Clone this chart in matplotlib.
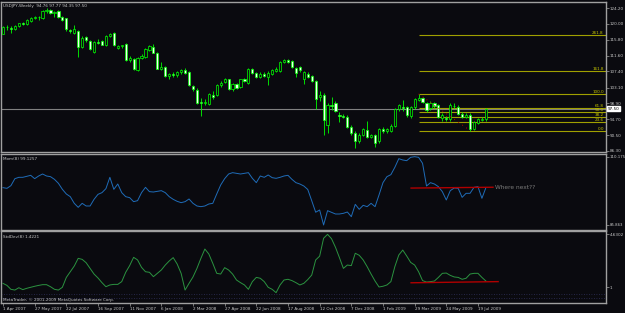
import numpy as np
import matplotlib.pyplot as plt

# USDJPY weekly candles, 1 Apr 2007 .. 2 Aug 2009
opens = [117.31, 119.08, 118.90, 118.55, 119.30, 120.10, 119.96, 120.85, 121.50, 121.70,
         121.56, 123.40, 123.68, 122.80, 123.41, 121.90, 121.47, 118.40, 117.50, 118.11,
         113.95, 116.43, 115.54, 112.62, 115.20, 115.36, 114.48, 116.80, 117.49, 113.60,
         114.00, 114.66, 110.40, 110.77, 107.76, 110.90, 111.12, 113.07, 113.95, 112.36,
         108.10, 108.64, 106.20, 106.60, 106.40, 107.20, 107.76, 107.32, 103.51, 102.45,
         99.27, 98.92, 98.74, 101.20, 101.22, 103.70, 104.60, 105.28, 102.63, 104.05,
         103.16, 105.28, 104.40, 108.11, 107.05, 106.00, 106.70, 105.80, 106.70, 107.50,
         107.41, 109.90, 110.30, 110.06, 108.29, 108.64, 105.46, 106.70, 106.17, 104.75,
         100.70, 101.04, 93.26, 98.40, 99.09, 95.70, 95.60, 95.38, 92.73, 91.13,
         88.83, 90.60, 91.84, 90.07, 90.60, 88.83, 92.00, 91.70, 91.67, 92.90,
         97.50, 98.00, 97.86, 95.56, 97.86, 99.90, 100.33, 98.92, 97.80, 98.92,
         98.39, 95.00, 95.00, 94.67, 98.30, 98.03, 96.09, 95.40, 95.90, 92.20,
         93.79, 94.60, 94.76]
highs = [119.30, 119.70, 119.40, 119.70, 120.30, 120.40, 121.20, 121.80, 122.00, 122.10,
         123.60, 124.10, 123.90, 123.50, 123.60, 122.10, 121.60, 118.70, 119.60, 118.40,
         116.80, 116.90, 115.80, 115.50, 115.90, 115.60, 117.00, 117.70, 117.90, 114.40,
         114.50, 115.00, 111.50, 111.00, 111.20, 112.00, 113.50, 114.50, 114.60, 112.60,
         109.90, 108.90, 107.00, 107.30, 107.60, 108.10, 108.20, 107.60, 103.90, 102.90,
         100.40, 100.00, 101.60, 102.20, 104.00, 104.80, 105.60, 105.50, 104.40, 104.30,
         105.50, 105.70, 108.30, 108.40, 107.30, 107.20, 107.30, 107.50, 108.00, 108.60,
         110.20, 110.70, 110.60, 110.40, 108.60, 108.90, 107.50, 107.10, 106.50, 105.00,
         102.30, 101.70, 99.00, 100.60, 99.50, 96.60, 96.20, 95.80, 93.20, 91.60,
         91.00, 92.40, 94.10, 90.80, 90.90, 92.50, 92.60, 92.50, 93.30, 97.60,
         98.80, 99.70, 98.20, 98.20, 100.40, 101.40, 100.60, 99.20, 99.60, 99.30,
         98.70, 96.40, 95.60, 98.90, 98.90, 98.40, 96.50, 96.30, 96.30, 94.30,
         95.00, 95.30, 97.77]
lows = [117.20, 118.40, 117.50, 118.40, 119.10, 119.60, 119.80, 120.60, 121.20, 121.00,
        121.40, 123.00, 122.60, 121.90, 121.60, 120.80, 118.20, 117.60, 117.30, 111.30,
        113.50, 115.30, 113.00, 112.30, 114.60, 114.30, 114.20, 116.50, 114.20, 113.20,
        113.70, 110.20, 109.80, 107.70, 107.40, 110.60, 110.90, 112.90, 112.20, 107.90,
        107.70, 105.90, 105.50, 105.90, 105.90, 106.80, 106.80, 103.50, 102.20, 98.80,
        95.60, 98.50, 98.50, 100.10, 100.90, 103.30, 104.30, 102.40, 102.30, 102.70,
        102.90, 104.50, 104.10, 106.80, 105.70, 105.60, 105.90, 103.70, 106.40, 107.20,
        107.10, 109.50, 109.60, 108.40, 106.00, 107.30, 104.10, 105.70, 104.60, 97.50,
        99.50, 90.60, 91.10, 97.20, 96.50, 93.90, 94.90, 92.40, 90.50, 87.10,
        88.50, 90.30, 89.80, 89.60, 87.20, 88.50, 91.00, 91.00, 91.30, 92.60,
        97.00, 97.00, 95.40, 95.10, 97.50, 99.50, 98.90, 96.70, 97.20, 97.80,
        94.90, 94.30, 94.20, 94.30, 97.60, 95.80, 94.90, 95.00, 91.70, 91.90,
        93.40, 94.30, 94.35]
closes = [119.08, 119.20, 118.55, 119.43, 120.10, 119.90, 121.00, 121.56, 121.70, 121.90,
          123.41, 123.70, 122.79, 123.20, 121.91, 121.02, 118.55, 118.00, 118.60, 113.95,
          116.25, 115.72, 113.24, 115.28, 115.00, 114.48, 116.78, 117.40, 114.48, 114.00,
          114.30, 110.41, 110.90, 107.94, 110.94, 111.60, 113.24, 114.13, 112.36, 108.11,
          108.60, 106.17, 106.60, 106.40, 107.20, 107.70, 107.05, 103.78, 102.63, 99.09,
          98.92, 99.20, 101.39, 100.70, 103.69, 104.40, 105.28, 102.63, 104.05, 102.98,
          105.28, 104.90, 108.11, 107.05, 105.99, 106.70, 106.20, 106.88, 107.76, 108.10,
          109.88, 110.40, 110.00, 108.64, 107.05, 107.76, 107.23, 105.99, 104.93, 100.16,
          101.20, 94.50, 98.39, 98.10, 96.97, 95.60, 95.40, 92.73, 90.96, 89.01,
          90.60, 92.02, 90.07, 90.43, 88.48, 92.20, 91.70, 92.00, 92.90, 97.33,
          98.39, 97.70, 95.73, 97.86, 100.16, 100.30, 99.27, 97.15, 99.00, 98.21,
          95.20, 95.80, 94.80, 98.39, 98.10, 96.09, 95.20, 95.70, 92.20, 93.96,
          94.67, 94.80, 97.50]

# Momentum(8) line
mom = [99.15, 98.91, 99.86, 102.35, 102.83, 102.83, 103.18, 103.54, 102.35, 103.30,
       104.01, 103.30, 103.06, 102.11, 100.69, 98.55, 96.89, 95.94, 93.57, 92.14,
       93.57, 92.62, 92.62, 94.99, 96.77, 97.37, 98.79, 102.83, 98.55, 100.45,
       97.37, 95.94, 95.59, 94.16, 94.52, 97.37, 99.27, 97.72, 97.60, 97.84,
       98.08, 97.37, 95.94, 94.99, 94.28, 93.81, 94.16, 95.11, 93.57, 92.62,
       92.38, 92.62, 93.33, 93.57, 96.89, 100.10, 102.35, 104.01, 104.49, 104.25,
       104.01, 104.25, 104.49, 102.47, 100.93, 103.30, 102.83, 103.66, 102.71, 102.47,
       102.83, 103.30, 103.54, 102.11, 100.93, 100.45, 99.74, 98.50, 94.50, 90.40,
       91.19, 85.863, 90.96, 90.36, 89.77, 89.77, 90.01, 90.48, 88.82, 93.21,
       91.43, 92.86, 92.38, 93.57, 92.38, 96.54, 100.93, 103.06, 103.78, 106.39,
       109.47, 109.00, 108.76, 109.95, 110.175, 109.95, 107.81, 99.74, 100.93, 100.45,
       99.50, 97.72, 94.76, 98.08, 99.03, 98.91, 95.70, 97.13, 97.13, 99.27,
       99.50, 95.35, 99.1257]

# StdDev(8) line
stddev = [1.26, 1.12, 0.85, 0.80, 0.96, 0.83, 0.92, 0.99, 1.06, 1.12,
          1.17, 1.17, 1.03, 0.85, 0.80, 0.99, 1.67, 2.06, 2.45, 2.98,
          2.91, 2.68, 2.29, 1.90, 1.63, 1.31, 1.03, 1.15, 1.19, 1.19,
          1.38, 2.02, 2.48, 3.05, 2.87, 2.36, 2.06, 2.02, 1.72, 1.95,
          2.18, 2.52, 2.80, 3.03, 2.59, 1.95, 0.80, 1.26, 1.70, 2.29,
          2.98, 3.62, 3.28, 2.64, 1.95, 1.90, 2.34, 2.18, 1.90, 1.49,
          1.31, 1.15, 0.85, 1.38, 1.67, 1.61, 1.38, 0.99, 0.85, 0.62,
          1.15, 1.49, 1.54, 1.45, 1.31, 1.15, 1.26, 1.52, 1.83, 2.87,
          3.13, 4.36, 4.6302, 4.33, 3.74, 3.03, 2.29, 2.52, 2.48, 3.33,
          3.19, 2.87, 2.41, 1.90, 1.42, 1.01, 1.06, 1.15, 1.38, 2.41,
          3.21, 3.55, 3.14, 2.70, 2.52, 2.06, 1.45, 1.35, 1.38, 1.42,
          1.67, 1.95, 1.97, 1.81, 1.70, 1.67, 1.54, 1.61, 1.90, 1.95,
          1.95, 1.67, 1.4221]

date_bars = list(range(0, 121, 8))
date_labels = ['1 Apr 2007', '27 May 2007', '22 Jul 2007', '16 Sep 2007', '11 Nov 2007',
               '6 Jan 2008', '2 Mar 2008', '27 Apr 2008', '22 Jun 2008', '17 Aug 2008',
               '12 Oct 2008', '7 Dec 2008', '1 Feb 2009', '29 Mar 2009', '24 May 2009',
               '19 Jul 2009']
price_ticks = [124.20, 120.00, 115.80, 111.60, 107.40, 103.10, 98.90, 94.70, 90.50, 86.30]

# Fibonacci retracement: anchored on the high of bar 105 and the low of bar 118
fib_levels = [0.0, 23.6, 38.2, 50.0, 61.8, 100.0, 161.8, 261.8]
fib_bar_high, fib_bar_low = 105, 118

BG = '#0a0a0f'
LIME = '#00ff00'
TXT = '#c8c8c8'
FS = 3.0
W, H = 625, 313

fig = plt.figure(figsize=(W / 100, H / 100), dpi=100, facecolor=BG)


def px_axes(x0, y0, x1, y1):
    a = fig.add_axes([x0 / W, 1 - y1 / H, (x1 - x0) / W, (y1 - y0) / H], facecolor=BG)
    for s in a.spines.values():
        s.set_color('#a0a0a0')
        s.set_linewidth(1.0)
    a.set_xlim(-0.38, 152.35)
    return a


ax = px_axes(1.5, 1.5, 606, 152)
axm = px_axes(1.5, 153.5, 606, 229.5)
axs = px_axes(1.5, 231, 606, 303)

# --- price panel ---
x = np.arange(len(closes))
o, h, l, c = map(np.array, (opens, highs, lows, closes))
up = c >= o
lo = np.minimum(o, c)
bh = np.maximum(np.abs(c - o), 0.08)
ax.vlines(x, l, h, color=LIME, lw=0.6, zorder=2)
ax.bar(x[up], bh[up], bottom=lo[up], width=0.55, facecolor=BG, edgecolor=LIME, lw=0.5, zorder=3)
ax.bar(x[~up], bh[~up], bottom=lo[~up], width=0.55, facecolor='#f0fff0', edgecolor=LIME, lw=0.5, zorder=3)
ax.axhline(closes[-1], color='#808080', lw=0.8, zorder=1)

f_hi = highs[fib_bar_high]
f_lo = lows[fib_bar_low]
for lvl in fib_levels:
    p = f_lo + (f_hi - f_lo) * lvl / 100
    ax.hlines(p, fib_bar_high, 152.35, color='#a0a000', lw=0.8, zorder=1.5)
    ax.text(151.8, p, f'{lvl:.1f}', ha='right', va='bottom', fontsize=FS, color='#c8c800')
ax.plot([fib_bar_high, fib_bar_low], [f_hi, f_lo], color='#c00000', lw=0.7, ls=(0, (1, 4)), zorder=4)

ax.set_ylim(86.0, 125.93)
ax.yaxis.tick_right()
ax.set_yticks(price_ticks)
ax.set_yticklabels([f'{t:.2f}' for t in price_ticks])
ax.tick_params(axis='y', length=2, width=0.5, color='#a0a0a0', labelcolor=TXT, labelsize=FS, pad=0.8)
ax.set_xticks([])
ax.text(1.003, closes[-1], f'{closes[-1]:.2f}', transform=ax.get_yaxis_transform(),
        fontsize=FS, color='black', va='center', ha='left',
        bbox=dict(boxstyle='square,pad=0.2', fc='white', ec='white'))
ax.text(0.003, 0.985, f'USDJPY,Weekly  {opens[-1]:.2f} {highs[-1]:.2f} {lows[-1]:.2f} {closes[-1]:.2f}',
        transform=ax.transAxes, fontsize=FS, color=TXT, va='top')

# --- momentum panel ---
axm.plot(x, mom, color='#1f6cb8', lw=0.7)
axm.plot([103.1, 123.8], [99.0, 99.3], color='#b00000', lw=1.0)
axm.text(124.3, 99.15, 'Where next??', fontsize=4.2, color='#7a7a7a', va='center')
axm.set_ylim(84.25, 111.31)
axm.yaxis.tick_right()
axm.set_yticks([110.175, 85.863])
axm.set_yticklabels(['110.175', '85.863'])
axm.tick_params(axis='y', length=2, width=0.5, color='#a0a0a0', labelcolor=TXT, labelsize=2.8, pad=0.5)
axm.set_xticks([])
axm.text(0.003, 0.95, f'Mom(8) {mom[-1]}', transform=axm.transAxes, fontsize=FS, color=TXT, va='top')

# --- stddev panel ---
axs.plot(x, stddev, color='#2b9340', lw=0.7)
axs.plot([103.1, 125.1], [1.30, 1.38], color='#b00000', lw=1.0)
axs.axhline(0.53, color='#30305a', lw=0.6, ls=(0, (1, 2)))
axs.axhline(0.25, color='#30305a', lw=0.6, ls=(0, (1, 2)))
axs.set_ylim(-0.09, 4.86)
axs.yaxis.tick_right()
axs.set_yticks([4.6302, 1.0])
axs.set_yticklabels(['4.6302', '1'])
axs.tick_params(axis='y', length=2, width=0.5, color='#a0a0a0', labelcolor=TXT, labelsize=FS, pad=0.8)
axs.set_xticks(date_bars)
axs.set_xticklabels(date_labels, ha='left')
axs.tick_params(axis='x', length=2, width=0.5, color='#a0a0a0', labelcolor=TXT, labelsize=FS, pad=1)
axs.text(0.003, 0.95, f'StdDev(8) {stddev[-1]}', transform=axs.transAxes, fontsize=FS, color=TXT, va='top')
axs.text(0.003, 0.04, 'MetaTrader, \u00a9 2001-2009 MetaQuotes Software Corp.', transform=axs.transAxes,
         fontsize=FS, color=TXT, va='center')

fig.savefig('out.png', dpi=100, facecolor=BG)
